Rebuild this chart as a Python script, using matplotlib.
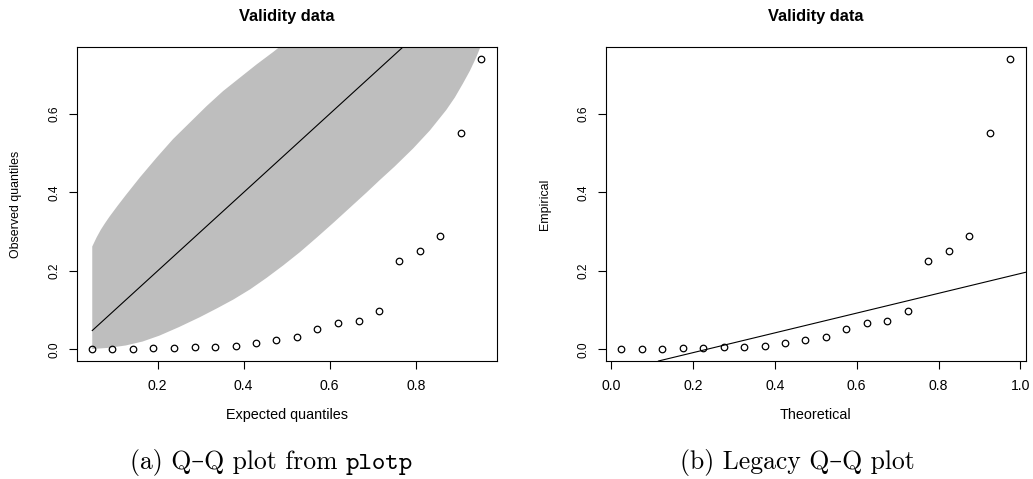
import matplotlib
matplotlib.use("Agg")
import matplotlib.pyplot as plt
from matplotlib.ticker import FormatStrFormatter

# ---------------- data ----------------
expected = [0.048, 0.095, 0.143, 0.190, 0.238, 0.286, 0.333, 0.381, 0.429, 0.476,
            0.524, 0.571, 0.619, 0.667, 0.714, 0.762, 0.810, 0.857, 0.905, 0.952]
theoretical = [0.025, 0.075, 0.125, 0.175, 0.225, 0.275, 0.325, 0.375, 0.425, 0.475,
               0.525, 0.575, 0.625, 0.675, 0.725, 0.775, 0.825, 0.875, 0.925, 0.975]
observed = [0.0, 0.0, 0.0, 0.0034, 0.004, 0.005, 0.005, 0.0085, 0.015, 0.0246,
            0.0305, 0.0525, 0.067, 0.072, 0.098, 0.225, 0.251, 0.288, 0.55, 0.74]

# confidence band edges
band_upper_x = [0.048, 0.058, 0.068, 0.078, 0.088, 0.107, 0.126, 0.159, 0.198, 0.236,
                0.275, 0.314, 0.352, 0.391, 0.430, 0.469, 0.500, 0.600, 0.750, 0.952]
band_upper_y = [0.262, 0.285, 0.305, 0.322, 0.338, 0.366, 0.393, 0.4385, 0.489, 0.536,
                0.578, 0.620, 0.658, 0.692, 0.726, 0.758, 0.785, 0.870, 0.950, 1.0]
band_lower_x = [0.048, 0.087, 0.126, 0.165, 0.204, 0.250, 0.298, 0.337, 0.376, 0.415,
                0.453, 0.492, 0.531, 0.570, 0.608, 0.647, 0.686, 0.716, 0.751, 0.794,
                0.833, 0.871, 0.891, 0.910, 0.926, 0.941, 0.952]
band_lower_y = [0.001, 0.004, 0.010, 0.020, 0.035, 0.057, 0.082, 0.104, 0.127, 0.153,
                0.182, 0.214, 0.248, 0.285, 0.322, 0.361, 0.400, 0.431, 0.466, 0.512,
                0.558, 0.610, 0.642, 0.678, 0.710, 0.745, 0.775]

# reference line of the legacy plot
legacy_intercept = -0.0588
legacy_slope = 0.252

left_xticks = [0.2, 0.4, 0.6, 0.8]
right_xticks = [0.0, 0.2, 0.4, 0.6, 0.8, 1.0]
yticks = [0.0, 0.2, 0.4, 0.6]

title = "Validity data"
left_xlabel, left_ylabel = "Expected quantiles", "Observed quantiles"
right_xlabel, right_ylabel = "Theoretical", "Empirical"
caption_a_main, caption_a_tt = "(a) Q\u2013Q plot from", "plotp"
caption_b = "(b) Legacy Q\u2013Q plot"

# ---------------- figure ----------------
plt.rcParams["font.family"] = ["Liberation Sans", "DejaVu Sans"]
W, H = 1033, 479
fig = plt.figure(figsize=(W / 100, H / 100), dpi=100)

def rng(v):
    lo, hi = min(v), max(v)
    p = 0.04 * (hi - lo)
    return lo - p, hi + p

def style(ax, xticks, xlabel, ylabel):
    for s in ax.spines.values():
        s.set_linewidth(0.8)
    ax.set_xticks(xticks)
    ax.set_yticks(yticks)
    ax.xaxis.set_major_formatter(FormatStrFormatter("%.1f"))
    ax.yaxis.set_major_formatter(FormatStrFormatter("%.1f"))
    ax.tick_params(direction="out", length=5.8, width=0.8, color="black")
    ax.tick_params(axis="x", labelsize=10.1, pad=7.0)
    ax.tick_params(axis="y", labelsize=8.6, pad=6.0)
    for lbl in ax.get_yticklabels():
        lbl.set_rotation(90)
        lbl.set_va("center")
    ax.text(0.5, 1.0966, title, transform=ax.transAxes, ha="center", va="center",
            fontsize=11.8, fontweight="bold")
    ax.text(0.5, (361 - 415) / 313.7, xlabel, transform=ax.transAxes,
            ha="center", va="center", fontsize=10.4)
    ax.text(-0.145, 0.5, ylabel, transform=ax.transAxes, rotation=90,
            ha="center", va="center", fontsize=8.9)

ax1 = fig.add_axes([76.7 / W, 1 - 361 / H, 420 / W, 313.7 / H])
ax2 = fig.add_axes([605.7 / W, 1 - 361 / H, 420 / W, 313.7 / H])

# ---- left: plotp Q-Q plot ----
poly_x = band_upper_x + band_lower_x[::-1]
poly_y = band_upper_y + band_lower_y[::-1]
ax1.fill(poly_x, poly_y, color="#bebebe", lw=0, zorder=1)
ax1.plot(expected, expected, color="black", lw=0.8, zorder=2)
ax1.plot(expected, observed, ls="none", marker="o", ms=4.7, mfc="none",
         mec="black", mew=0.9, zorder=3)
ax1.set_xlim(*rng(expected))
ax1.set_ylim(*rng(observed))
style(ax1, left_xticks, left_xlabel, left_ylabel)

# ---- right: legacy Q-Q plot ----
ax2.axline((0, legacy_intercept), slope=legacy_slope, color="black", lw=0.8, zorder=2)
ax2.plot(theoretical, observed, ls="none", marker="o", ms=4.7, mfc="none",
         mec="black", mew=0.9, zorder=3)
ax2.set_xlim(*rng(theoretical))
ax2.set_ylim(*rng(observed))
style(ax2, right_xticks, right_xlabel, right_ylabel)

# ---- captions ----
base_y = 1 - 469 / H
fig.text(337.4 / W, base_y, caption_a_main, ha="right", va="baseline",
         fontsize=18.5, family=["cmr10", "DejaVu Serif"])
fig.text(346.0 / W, base_y, caption_a_tt, ha="left", va="baseline",
         fontsize=18.5, family=["cmtt10", "DejaVu Sans Mono"])
fig.text(797.3 / W, base_y, caption_b, ha="center", va="baseline",
         fontsize=18.5, family=["cmr10", "DejaVu Serif"])

fig.savefig("out.png", dpi=100)
